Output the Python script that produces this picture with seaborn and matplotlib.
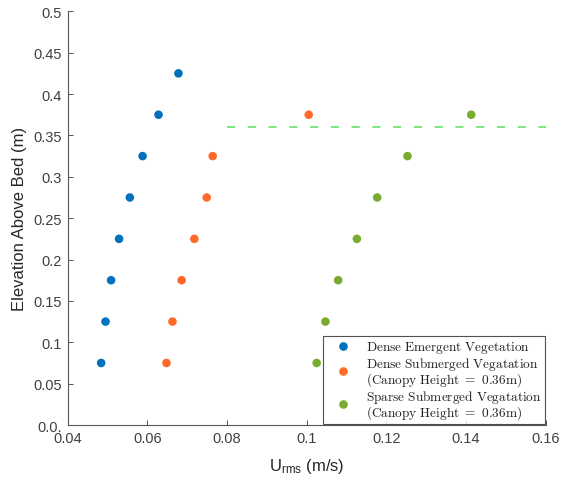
import numpy as np
import pandas as pd
import matplotlib
matplotlib.use("Agg")
import matplotlib.pyplot as plt
import seaborn as sns

# ---- data ----
elev_dense_emergent = [0.075, 0.125, 0.175, 0.225, 0.275, 0.325, 0.375, 0.425]
urms_dense_emergent = [0.0484, 0.0495, 0.0509, 0.0529, 0.0556, 0.0588, 0.0628, 0.0678]

elev_dense_sub = [0.075, 0.125, 0.175, 0.225, 0.275, 0.325, 0.375]
urms_dense_sub = [0.0648, 0.0663, 0.0686, 0.0718, 0.0749, 0.0764, 0.1005]

elev_sparse_sub = [0.075, 0.125, 0.175, 0.225, 0.275, 0.325, 0.375]
urms_sparse_sub = [0.1025, 0.1047, 0.1079, 0.1126, 0.1177, 0.1253, 0.1413]

canopy_height = 0.36
canopy_x = [0.08, 0.16]

series_names = ["Dense Emergent", "Dense Submerged", "Sparse Submerged"]
series_colors = ["#0072BD", "#FF6929", "#77AC30"]
legend_labels = [
    r"$\mathrm{Dense\ Emergent\ Vegetation}$",
    r"$\mathrm{Dense\ Submerged\ Vegatation}$" + "\n" + r"$\mathrm{(Canopy\ Height\ =\ 0.36m)}$",
    r"$\mathrm{Sparse\ Submerged\ Vegatation}$" + "\n" + r"$\mathrm{(Canopy\ Height\ =\ 0.36m)}$",
]

xticks = [0.04, 0.06, 0.08, 0.10, 0.12, 0.14, 0.16]
xticklabels = ["0.04", "0.06", "0.08", "0.1", "0.12", "0.14", "0.16"]
yticks = [0.0, 0.05, 0.1, 0.15, 0.2, 0.25, 0.3, 0.35, 0.4, 0.45, 0.5]
yticklabels = ["0.0.", "0.05", "0.1", "0.15", "0.2", "0.25", "0.3", "0.35", "0.4", "0.45", "0.5"]

df = pd.concat([
    pd.DataFrame({"urms": urms_dense_emergent, "elev": elev_dense_emergent, "series": series_names[0]}),
    pd.DataFrame({"urms": urms_dense_sub, "elev": elev_dense_sub, "series": series_names[1]}),
    pd.DataFrame({"urms": urms_sparse_sub, "elev": elev_sparse_sub, "series": series_names[2]}),
], ignore_index=True)

# ---- style ----
sns.set_style("white")
plt.rcParams["font.family"] = ["Liberation Sans", "DejaVu Sans"]
plt.rcParams["mathtext.fontset"] = "custom"
plt.rcParams["mathtext.rm"] = "Liberation Sans"
plt.rcParams["mathtext.it"] = "Liberation Sans:italic"

fig = plt.figure(figsize=(5.64, 4.81), dpi=100)
ax = fig.add_axes([0.12, 0.1143, 0.8476, 0.8601])

sns.scatterplot(data=df, x="urms", y="elev", hue="series", hue_order=series_names,
                palette=series_colors, s=38, linewidth=0, ax=ax, legend=False)

ax.plot(canopy_x, [canopy_height, canopy_height], color="#72E572", lw=1.3,
        dashes=(4.5, 7))

ax.set_xlim(0.04, 0.16)
ax.set_ylim(0.0, 0.5)
ax.set_xticks(xticks)
ax.set_xticklabels(xticklabels)
ax.set_yticks(yticks)
ax.set_yticklabels(yticklabels)

tc = "#404040"
ax.tick_params(bottom=True, left=True, direction="in", length=3.5, width=0.7,
               colors="#555555", labelsize=10.5, labelcolor=tc, pad=4)
for side in ["top", "right"]:
    ax.spines[side].set_visible(False)
for side in ["left", "bottom"]:
    ax.spines[side].set_color("#555555")
    ax.spines[side].set_linewidth(0.8)

ax.set_xlabel(r"U$_{\mathrm{rms}}$ (m/s)", fontsize=12, color="#262626", labelpad=8)
ax.set_ylabel("Elevation Above Bed (m)", fontsize=12, color="#262626", labelpad=5)

from matplotlib.lines import Line2D
handles = [Line2D([], [], ls="none", marker="o", markersize=6.2, markeredgewidth=0,
                  color=c) for c in series_colors]
leg = ax.legend(handles, legend_labels, loc="lower right", frameon=True, fancybox=False,
                fontsize=9.6, borderaxespad=0.05, handletextpad=0.45, labelspacing=0.0,
                borderpad=0.25, handlelength=2.5)
leg.get_frame().set_edgecolor("#262626")
leg.get_frame().set_linewidth(0.8)
for t in leg.get_texts():
    t.set_math_fontfamily("cm")
    t.set_color("#222222")
    t.set_linespacing(0.85)

fig.savefig("out.png", dpi=100)
